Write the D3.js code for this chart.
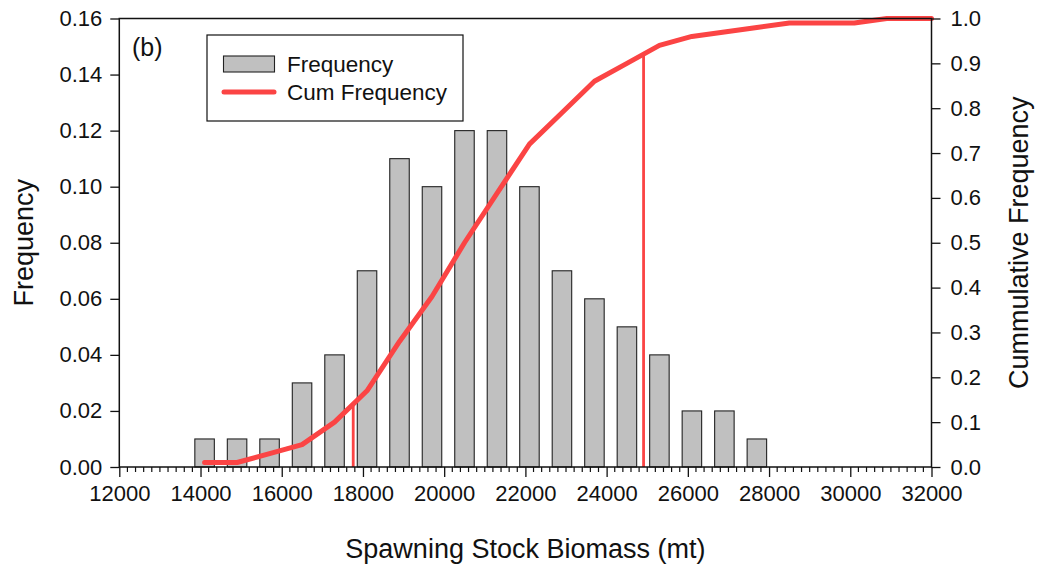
<!DOCTYPE html>
<html>
<head>
<meta charset="utf-8">
<script src="https://cdn.jsdelivr.net/npm/d3@7"></script>
<style>
  body { margin: 0; background: #fff; }
  text { font-family: "Liberation Sans", Arial, Helvetica, sans-serif; fill: #111; }
</style>
</head>
<body>
<svg id="chart" width="1039" height="565"></svg>
<script>
// Histogram bins (bin centres, mt) and their relative frequencies
const binCenters = [14100, 14900, 15700, 16500, 17300, 18100, 18900, 19700, 20500,
                    21300, 22100, 22900, 23700, 24500, 25300, 26100, 26900, 27700];
const frequency  = [0.01, 0.01, 0.01, 0.03, 0.04, 0.07, 0.11, 0.10, 0.12,
                    0.12, 0.10, 0.07, 0.06, 0.05, 0.04, 0.02, 0.02, 0.01];

// Cumulative frequency curve
const cumX    = [14100, 14900, 15700, 16500, 17300, 18100, 18900, 19700, 20500, 21300, 22100,
                 22900, 23700, 24500, 25300, 26100, 26900, 27700, 28500, 29300, 30100, 30900, 32000];
const cumFreq = [0.01, 0.01, 0.03, 0.05, 0.10, 0.17, 0.28, 0.38, 0.50, 0.61, 0.72,
                 0.79, 0.86, 0.90, 0.94, 0.96, 0.97, 0.98, 0.99, 0.99, 0.99, 1.00, 1.00];

// Reference drop lines (biomass values) up to the cumulative curve
const markerX = [17760, 24910];

// Axis ticks
const xTicks     = [12000, 14000, 16000, 18000, 20000, 22000, 24000, 26000, 28000, 30000, 32000];
const leftTicks  = [0.00, 0.02, 0.04, 0.06, 0.08, 0.10, 0.12, 0.14, 0.16];
const rightTicks = [0.0, 0.1, 0.2, 0.3, 0.4, 0.5, 0.6, 0.7, 0.8, 0.9, 1.0];

const svg = d3.select("#chart");
const L = 119.3, R = 931.5, T = 18.5, B = 467;

const x  = d3.scaleLinear().domain([12000, 32000]).range([L, R]);
const yL = d3.scaleLinear().domain([0, 0.16]).range([B, T]);
const yR = d3.scaleLinear().domain([0, 1]).range([B, T]);

const red = "#fb4444";
const binWidth = 480;

// Bars
svg.append("g").selectAll("rect")
  .data(binCenters)
  .join("rect")
  .attr("x", (d) => x(d - binWidth / 2))
  .attr("width", (d) => x(d + binWidth / 2) - x(d - binWidth / 2))
  .attr("y", (d, i) => yL(frequency[i]))
  .attr("height", (d, i) => B - yL(frequency[i]))
  .attr("fill", "#c0c0c0")
  .attr("stroke", "#222")
  .attr("stroke-width", 1.1);

// Drop lines from the axis to the cumulative curve
const cumAt = d3.scaleLinear().domain(cumX).range(cumFreq);
svg.append("g").selectAll("line")
  .data(markerX)
  .join("line")
  .attr("x1", (d) => x(d)).attr("x2", (d) => x(d))
  .attr("y1", B).attr("y2", (d) => yR(cumAt(d)))
  .attr("stroke", red)
  .attr("stroke-width", 2.8);

// Cumulative frequency line
const line = d3.line().x((d) => x(d[0])).y((d) => yR(d[1]));
svg.append("path")
  .datum(cumX.map((v, i) => [v, cumFreq[i]]))
  .attr("d", line)
  .attr("fill", "none")
  .attr("stroke", red)
  .attr("stroke-width", 5)
  .attr("stroke-linejoin", "round")
  .attr("stroke-linecap", "round");

// Axes
const tickFont = "22px";
const xAxis = d3.axisBottom(x).tickValues(xTicks).tickFormat(d3.format("d")).tickSize(10).tickPadding(8);
const gx = svg.append("g").attr("transform", `translate(0,${B})`).call(xAxis);
// minor ticks every 200 mt
gx.append("g").selectAll("line")
  .data(d3.range(12000, 32001, 200).filter((v) => v % 2000 !== 0))
  .join("line")
  .attr("x1", (d) => x(d)).attr("x2", (d) => x(d))
  .attr("y1", 0).attr("y2", 5)
  .attr("stroke", "#111").attr("stroke-width", 1.2);

const gl = svg.append("g").attr("transform", `translate(${L},0)`)
  .call(d3.axisLeft(yL).tickValues(leftTicks).tickFormat(d3.format(".2f")).tickSize(9).tickPadding(8));
const gr = svg.append("g").attr("transform", `translate(${R},0)`)
  .call(d3.axisRight(yR).tickValues(rightTicks).tickFormat(d3.format(".1f")).tickSize(9).tickPadding(10));

[gx, gl, gr].forEach((g) => {
  g.select(".domain").remove();
  g.selectAll(".tick line").attr("stroke", "#111").attr("stroke-width", 1.3);
  g.selectAll(".tick text").attr("font-size", tickFont).attr("fill", "#111")
    .style("font-family", '"Liberation Sans", Arial, sans-serif');
});

// Frame
svg.append("rect")
  .attr("x", L).attr("y", T).attr("width", R - L).attr("height", B - T)
  .attr("fill", "none").attr("stroke", "#111").attr("stroke-width", 1.5);

// Axis titles
svg.append("text")
  .attr("x", (L + R) / 2).attr("y", 558)
  .attr("text-anchor", "middle").attr("font-size", "27px")
  .text("Spawning Stock Biomass (mt)");
svg.append("text")
  .attr("transform", `translate(33,${(T + B) / 2}) rotate(-90)`)
  .attr("text-anchor", "middle").attr("font-size", "27px")
  .text("Frequency");
svg.append("text")
  .attr("transform", `translate(1028,${(T + B) / 2}) rotate(-90)`)
  .attr("text-anchor", "middle").attr("font-size", "27px")
  .text("Cummulative Frequency");

// Panel label
svg.append("text")
  .attr("x", 132).attr("y", 56).attr("font-size", "25px").text("(b)");

// Legend
const lg = svg.append("g");
lg.append("rect").attr("x", 207).attr("y", 35).attr("width", 256).attr("height", 86)
  .attr("fill", "#fff").attr("stroke", "#111").attr("stroke-width", 1.2);
lg.append("rect").attr("x", 223.5).attr("y", 56).attr("width", 51).attr("height", 16)
  .attr("fill", "#c0c0c0").attr("stroke", "#222").attr("stroke-width", 1.1);
lg.append("line").attr("x1", 224).attr("x2", 274).attr("y1", 92).attr("y2", 92)
  .attr("stroke", red).attr("stroke-width", 5).attr("stroke-linecap", "round");
lg.append("text").attr("x", 287).attr("y", 72).attr("font-size", "22.5px").text("Frequency");
lg.append("text").attr("x", 287).attr("y", 100).attr("font-size", "22.5px").text("Cum Frequency");
</script>
</body>
</html>
